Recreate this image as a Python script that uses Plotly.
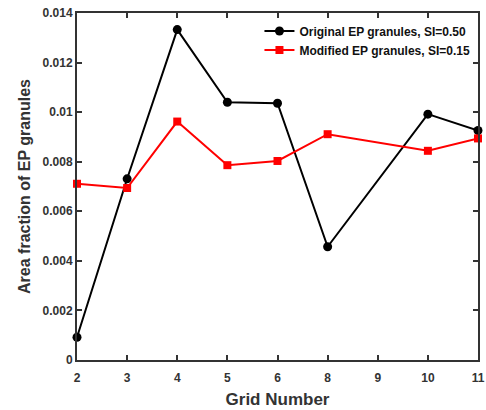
import plotly.graph_objects as go

# Grid labels shown on the axis (evenly spaced) and the grids that were measured
tick_labels = ["2", "3", "4", "5", "6", "8", "9", "10", "11"]
grids = ["2", "3", "4", "5", "6", "8", "10", "11"]

original_si050 = [0.00092, 0.00731, 0.01333, 0.01040, 0.01036, 0.00457, 0.00992, 0.00926]
modified_si015 = [0.00711, 0.00694, 0.00962, 0.00786, 0.00803, 0.00911, 0.00844, 0.00894]

y_ticks = [0, 0.002, 0.004, 0.006, 0.008, 0.01, 0.012, 0.014]
y_tick_text = ["0", "0.002", "0.004", "0.006", "0.008", "0.01", "0.012", "0.014"]

FONT = "Liberation Sans, Arial, sans-serif"

fig = go.Figure()
fig.add_trace(go.Scatter(
    x=grids, y=original_si050, mode="lines+markers",
    name="<b>Original EP granules, SI=0.50</b>",
    line=dict(color="black", width=2),
    marker=dict(symbol="circle", size=9, color="black"),
    cliponaxis=False,
))
fig.add_trace(go.Scatter(
    x=grids, y=modified_si015, mode="lines+markers",
    name="<b>Modified EP granules, SI=0.15</b>",
    line=dict(color="#ff0000", width=2),
    marker=dict(symbol="square", size=8, color="#ff0000"),
    cliponaxis=False,
))

axis_common = dict(
    showline=True, linecolor="#333333", linewidth=2, mirror="ticks",
    ticks="inside", ticklen=5, tickwidth=2, tickcolor="#333333",
    showgrid=False, zeroline=False, automargin=False,
    tickfont=dict(family=FONT, size=12, color="#333333", weight="bold"),
)

fig.update_xaxes(
    type="category", categoryorder="array", categoryarray=tick_labels,
    range=[0, 8], ticklabelstandoff=6,
    title=dict(text="<b>Grid Number</b>", font=dict(family=FONT, size=17, color="#333333"), standoff=9),
    **axis_common,
)
fig.update_yaxes(
    range=[0, 0.014], tickvals=y_ticks, ticktext=y_tick_text,
    title=dict(text="<b>Area fraction of EP granules</b>", font=dict(family=FONT, size=16, color="#333333"), standoff=8),
    **axis_common,
)

fig.update_layout(
    width=486, height=410,
    margin=dict(l=77, r=8, t=13, b=50),
    plot_bgcolor="white", paper_bgcolor="white",
    font=dict(family=FONT, color="#111111"),
    legend=dict(
        x=0.455, y=0.99, xanchor="left", yanchor="top",
        bgcolor="rgba(0,0,0,0)", borderwidth=0,
        font=dict(family=FONT, size=12, color="#111111"),
        tracegroupgap=0, itemwidth=30,
    ),
)

fig.write_html("out.html")
